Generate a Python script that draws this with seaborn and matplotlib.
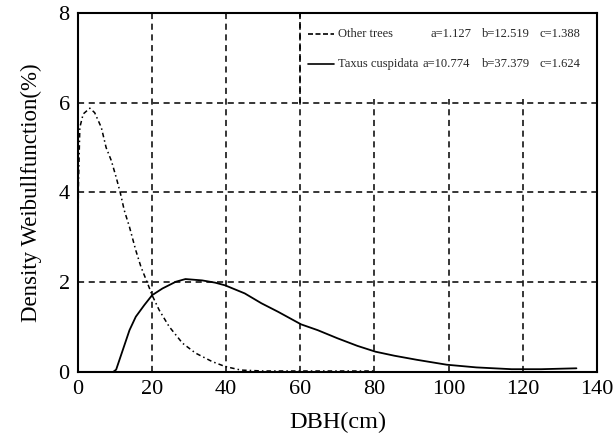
import matplotlib
matplotlib.use("Agg")
import matplotlib.pyplot as plt
import seaborn as sns
import pandas as pd

# Data
other_x = [0.0, 0.1, 0.5, 1.4, 3.2, 4.5, 6.3, 7.6, 9.0, 10.3, 11.4, 12.5, 13.9,
           15.6, 17.0, 18.8, 20.0, 21.9, 24.6, 28.2, 31.7, 36.2, 39.7, 44.0,
           50.0, 60.0, 70.0, 80.0]
other_y = [2.5, 4.1, 5.45, 5.75, 5.88, 5.78, 5.45, 5.0, 4.71, 4.34, 4.0, 3.6, 3.23,
           2.71, 2.34, 1.97, 1.71, 1.38, 1.01, 0.64, 0.42, 0.23, 0.12, 0.04,
           0.02, 0.02, 0.02, 0.02]

taxus_x = [0.0, 9.5, 10.3, 12.1, 13.9, 15.6, 17.9, 20.0, 22.8, 26.4, 29.0, 33.5,
           37.0, 39.7, 45.0, 49.5, 54.0, 60.2, 64.7, 70.0, 75.4, 80.3, 85.4,
           91.4, 99.5, 107.5, 117.0, 125.0, 134.5]
taxus_y = [0.0, 0.0, 0.05, 0.49, 0.93, 1.23, 1.49, 1.71, 1.86, 2.01, 2.07, 2.04,
           1.99, 1.93, 1.75, 1.53, 1.34, 1.06, 0.93, 0.75, 0.58, 0.45, 0.36,
           0.27, 0.16, 0.10, 0.06, 0.06, 0.08]

x_ticks = [0, 20, 40, 60, 80, 100, 120, 140]
y_ticks = [0, 2, 4, 6, 8]

series_names = ["Other trees", "Taxus cuspidata"]
param_a = ["a=1.127", "a=10.774"]
param_b = ["b=12.519", "b=37.379"]
param_c = ["c=1.388", "c=1.624"]

sns.set_theme(style="white")
plt.rcParams["font.family"] = ["Liberation Serif", "DejaVu Serif"]

fig = plt.figure(figsize=(6.14, 4.37), dpi=100)
ax = fig.add_axes([0.127, 0.149, 0.845, 0.821])

df_other = pd.DataFrame({"DBH": other_x, "Density": other_y})
df_taxus = pd.DataFrame({"DBH": taxus_x, "Density": taxus_y})

sns.lineplot(data=df_other, x="DBH", y="Density", ax=ax, color="black",
             linewidth=1.1, linestyle=(0, (3, 2, 1, 2)), sort=False, zorder=3)
sns.lineplot(data=df_taxus, x="DBH", y="Density", ax=ax, color="black",
             linewidth=1.3, linestyle="-", sort=False, zorder=3)

ax.set_xlim(0, 140)
ax.set_ylim(0, 8)
ax.set_xticks(x_ticks)
ax.set_yticks(y_ticks)
ax.set_xticklabels([str(t) for t in x_ticks])
ax.set_yticklabels([str(t) for t in y_ticks])
ax.tick_params(axis="both", length=0, labelsize=16, colors="black", pad=6)

ax.grid(True, color="black", linestyle=(0, (4, 3)), linewidth=1.1, zorder=1)
for sp in ax.spines.values():
    sp.set_visible(True)
    sp.set_color("black")
    sp.set_linewidth(1.5)

ax.set_xlabel("DBH(cm)", fontsize=17.5, color="black", labelpad=9)
ax.set_ylabel("Density Weibullfunction(%)", fontsize=16.5, color="black", labelpad=12)

# Legend area (white box covering top-right region)
ax.fill_between([60.6, 139.5], 6.08, 7.97, color="white", zorder=2, linewidth=0)
legend_rows_y = [7.53, 6.87]
legend_styles = [(0, (3, 1.5)), "-"]
for i in range(2):
    yy = legend_rows_y[i]
    ax.plot([62, 69], [yy, yy], color="black", linewidth=1.2,
            linestyle=legend_styles[i], zorder=4)
    ax.text(70.2, yy, series_names[i], fontsize=9, va="center", ha="left", zorder=4)
    ax.text(95.0 if i == 0 else 93.0, yy, param_a[i], fontsize=9, va="center", ha="left", zorder=4)
    ax.text(109.0, yy, param_b[i], fontsize=9, va="center", ha="left", zorder=4)
    ax.text(124.5, yy, param_c[i], fontsize=9, va="center", ha="left", zorder=4)

# redraw x gridline at 60 above the legend box
ax.plot([60, 60], [6, 8], color="black", linestyle=(0, (4, 3)), linewidth=1.1, zorder=3)

fig.savefig("out.png", dpi=100, facecolor="white")
